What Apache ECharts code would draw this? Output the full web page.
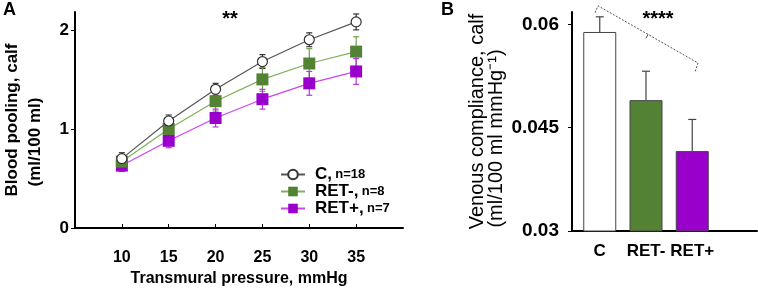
<!DOCTYPE html>
<html>
<head>
<meta charset="UTF-8">
<script src="https://cdn.jsdelivr.net/npm/echarts@6/dist/echarts.min.js"></script>
<style>
  html, body { margin: 0; padding: 0; background: #fff; }
  #chart { width: 758px; height: 292px; }
</style>
</head>
<body>
<div id="chart"></div>
<script>
// panel A: blood pooling vs transmural pressure
var pressures = [10, 15, 20, 25, 30, 35];
var poolC     = [0.70, 1.08, 1.40, 1.68, 1.90, 2.08];
var poolCErr  = [0.06, 0.06, 0.06, 0.07, 0.07, 0.08];
var poolNeg   = [0.67, 1.00, 1.28, 1.50, 1.66, 1.78];
var poolNegErr= [0.06, 0.07, 0.10, 0.12, 0.15, 0.15];
var poolPos   = [0.63, 0.88, 1.11, 1.30, 1.46, 1.58];
var poolPosErr= [0.06, 0.07, 0.09, 0.10, 0.12, 0.13];

// panel B: venous compliance
var groups     = ['C', 'RET-', 'RET+'];
var compliance = [0.0589, 0.0490, 0.0416];
var complErr   = [0.0022, 0.0042, 0.0046];
var groupN     = ['n=18', 'n=8', 'n=7'];

var font = '"Liberation Sans", Arial, sans-serif';
var colC = '#333333', colNeg = '#548235', colPos = '#9900cc';

function pairs(xs, ys) { return xs.map(function (x, i) { return [x, ys[i]]; }); }
function errs(xs, ys, es, upOnly) {
  return xs.map(function (x, i) { return [x, upOnly ? ys[i] : ys[i] - es[i], ys[i] + es[i]]; });
}
function errSeries(data, color, xi, yi, cap) {
  return {
    type: 'custom', xAxisIndex: xi, yAxisIndex: yi, data: data, z: 1, silent: true,
    renderItem: function (params, api) {
      var lo = api.coord([api.value(0), api.value(1)]);
      var hi = api.coord([api.value(0), api.value(2)]);
      var st = { stroke: color, lineWidth: 1.2 };
      var kids = [
        { type: 'line', shape: { x1: lo[0], y1: lo[1], x2: hi[0], y2: hi[1] }, style: st },
        { type: 'line', shape: { x1: hi[0] - cap, y1: hi[1], x2: hi[0] + cap, y2: hi[1] }, style: st }
      ];
      if (xi === 0) kids.push({ type: 'line', shape: { x1: lo[0] - cap, y1: lo[1], x2: lo[0] + cap, y2: lo[1] }, style: st });
      return { type: 'group', children: kids };
    }
  };
}

var chart = echarts.init(document.getElementById('chart'));
var axisLine = { lineStyle: { color: '#000', width: 2 } };
function lbl(size) { return { color: '#000', fontFamily: font, fontWeight: 'bold', fontSize: size }; }

chart.setOption({
  animation: false,
  textStyle: { fontFamily: font },
  grid: [
    { left: 72, top: 12, right: 355, bottom: 61 },
    { left: 572, top: 12, right: 1, bottom: 61 }
  ],
  xAxis: [{
    type: 'value', gridIndex: 0, min: 5, max: 40,
    axisLine: axisLine, splitLine: { show: false },
    axisTick: { inside: true, length: 4, customValues: pressures, lineStyle: { color: '#000' } },
    axisLabel: Object.assign({ margin: 22, customValues: pressures }, lbl(16)),
    name: 'Transmural pressure, mmHg', nameLocation: 'middle', nameGap: 43,
    nameTextStyle: lbl(16)
  }, {
    type: 'value', gridIndex: 1, min: 0.4, max: 4.4,
    axisLine: axisLine, splitLine: { show: false }, axisTick: { show: false },
    axisLabel: Object.assign({
      margin: 12, customValues: [1, 2, 3],
      formatter: function (v) { return groups[Math.round(v) - 1]; }
    }, lbl(17))
  }],
  yAxis: [{
    type: 'value', gridIndex: 0, min: 0, max: 2.18,
    axisLine: axisLine, splitLine: { show: false },
    axisTick: { show: true, length: 4, customValues: [0, 1, 2], lineStyle: { color: '#000' } },
    axisLabel: Object.assign({ margin: 6, customValues: [0, 1, 2] }, lbl(17)),
    name: 'Blood pooling, calf\n{b|(ml/100 ml)}', nameLocation: 'middle', nameGap: 28,
    nameTextStyle: Object.assign({
      lineHeight: 23,
      rich: { b: Object.assign({ lineHeight: 23, padding: [0, 44, 0, 0] }, lbl(17)) }
    }, lbl(17))
  }, {
    type: 'value', gridIndex: 1, min: 0.03, max: 0.0618,
    axisLine: axisLine, splitLine: { show: false },
    axisTick: { show: true, length: 4, customValues: [0.03, 0.045, 0.06], lineStyle: { color: '#000' } },
    axisLabel: Object.assign({ margin: 13, customValues: [0.03, 0.045, 0.06] }, lbl(19)),
    name: 'Venous compliance, calf\n{b|(ml/100 ml mmHg⁻¹)}', nameLocation: 'middle', nameGap: 66,
    nameTextStyle: {
      color: '#000', fontFamily: font, fontSize: 20, lineHeight: 19,
      rich: { b: { color: '#000', fontFamily: font, fontSize: 20, lineHeight: 19, padding: [0, 34, 0, 0] } }
    }
  }],
  legend: {
    orient: 'vertical', left: 275, top: 161, itemWidth: 24, itemHeight: 12, itemGap: 0,
    data: groups,
    formatter: function (name) {
      return '{a|' + name + ',} {b|' + groupN[groups.indexOf(name)] + '}';
    },
    textStyle: {
      color: '#000', padding: [0, 0, 0, 5],
      rich: {
        a: Object.assign({ lineHeight: 18 }, lbl(17)),
        b: Object.assign({ lineHeight: 18 }, lbl(13))
      }
    }
  },
  series: [
    errSeries(errs(pressures, poolC, poolCErr), colC, 0, 0, 3),
    errSeries(errs(pressures, poolNeg, poolNegErr), '#6fa14a', 0, 0, 3),
    errSeries(errs(pressures, poolPos, poolPosErr), '#bb33dd', 0, 0, 3),
    {
      name: 'RET+', type: 'line', xAxisIndex: 0, yAxisIndex: 0, data: pairs(pressures, poolPos),
      symbol: 'rect', symbolSize: 12, z: 2,
      lineStyle: { color: '#cc44ee', width: 1.2 }, itemStyle: { color: colPos }
    },
    {
      name: 'RET-', type: 'line', xAxisIndex: 0, yAxisIndex: 0, data: pairs(pressures, poolNeg),
      symbol: 'rect', symbolSize: 12, z: 3,
      lineStyle: { color: '#7fb05a', width: 1.2 }, itemStyle: { color: colNeg }
    },
    {
      name: 'C', type: 'line', xAxisIndex: 0, yAxisIndex: 0, data: pairs(pressures, poolC),
      symbol: 'circle', symbolSize: 10, showAllSymbol: true, z: 4,
      lineStyle: { color: '#555', width: 1.2 },
      itemStyle: { color: '#fff', borderColor: '#333', borderWidth: 1.2 }
    },
    {
      type: 'bar', xAxisIndex: 1, yAxisIndex: 1, barWidth: 33, z: 2,
      data: compliance.map(function (v, i) {
        return { value: [i + 1, v], itemStyle: { color: ['#ffffff', colNeg, colPos][i], borderColor: '#444', borderWidth: 1 } };
      })
    },
    errSeries(errs([1, 2, 3], compliance, complErr, true), '#444', 1, 1, 4)
  ]
});

// panel letters, stars and the significance bracket placed through the axes
var p = function (x, y) { return chart.convertToPixel({ xAxisIndex: 1, yAxisIndex: 1 }, [x, y]); };
var a = p(0.9, 0.0617), b = p(0.962, 0.0627), c = p(3.124, 0.0544), d = p(3.06, 0.0531);
var mx = (b[0] + c[0]) / 2, my = (b[1] + c[1]) / 2;
chart.setOption({
  graphic: [
    { id: 'lblA', type: 'text', left: 3, top: 1, style: { text: 'A', font: 'bold 18px ' + font, fill: '#000' } },
    { id: 'lblB', type: 'text', left: 441, top: 1, style: { text: 'B', font: 'bold 18px ' + font, fill: '#000' } },
    { id: 'starA', type: 'text', x: 230, y: 19, style: { text: '**', font: 'bold 20px ' + font, fill: '#000', align: 'center', verticalAlign: 'middle' } },
    { id: 'starB', type: 'text', x: 658, y: 19, style: { text: '****', font: 'bold 20px ' + font, fill: '#000', align: 'center', verticalAlign: 'middle' } },
    {
      id: 'bracket', type: 'polyline', shape: { points: [a, b, c, d] },
      style: { stroke: '#555', lineWidth: 1, lineDash: [2, 1.5], fill: null }
    },
    {
      id: 'bracketTick', type: 'line', shape: { x1: mx, y1: my, x2: mx - 2, y2: my + 4 },
      style: { stroke: '#555', lineWidth: 1 }
    }
  ]
});
</script>
</body>
</html>
